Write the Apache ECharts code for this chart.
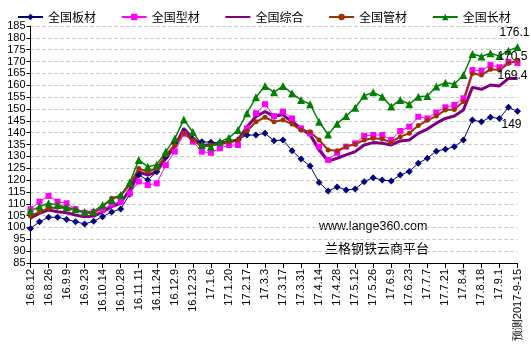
<!DOCTYPE html>
<html>
<head>
<meta charset="utf-8">
<script src="https://cdn.jsdelivr.net/npm/echarts@6/dist/echarts.min.js"></script>
<style>html,body{margin:0;padding:0;background:#fff}#c{width:531px;height:350px}</style>
</head>
<body>
<div id="c"></div>
<script>
const categories = ['16.8.12','16.8.19','16.8.26','16.9.2','16.9.9','16.9.16','16.9.23','16.9.30','16.10.14','16.10.21','16.10.28','16.11.4','16.11.11','16.11.18','16.11.24','16.12.2','16.12.9','16.12.16','16.12.23','16.12.30','17.1.6','17.1.13','17.1.20','17.2.10','17.2.17','17.2.24','17.3.3','17.3.10','17.3.17','17.3.24','17.3.31','17.4.7','17.4.14','17.4.21','17.4.28','17.5.5','17.5.12','17.5.19','17.5.26','17.6.2','17.6.9','17.6.16','17.6.23','17.6.30','17.7.7','17.7.14','17.7.21','17.7.28','17.8.4','17.8.11','17.8.18','17.8.25','17.9.1','17.9.8','预测2017-9-15'];

const plate = [99.6,102.4,104.3,104.3,103.4,102.4,101.5,102.6,104.5,106.5,107.8,114.0,122.1,120.0,123.5,129.6,135.5,140.3,137.2,136.2,135.9,135.8,136.2,136.9,139.0,139.0,139.7,136.6,136.9,132.4,128.9,125.9,119.0,115.4,117.1,115.8,116.2,119.3,121.0,120.0,119.6,122.1,123.6,127.1,129.2,132.2,133.0,134.1,136.9,145.3,144.6,146.5,146.0,150.7,149];
const section = [107.7,110.9,113.3,110.9,110.2,107.7,106.2,106.5,107.5,109.8,110.9,114.4,119.4,117.9,118.6,126.3,132.0,139.5,136.2,132.0,131.5,133.4,134.8,134.8,141.8,148.2,152.0,147.0,148.9,146.0,141.8,139.7,134.1,128.5,131.5,134.1,135.5,138.6,139.0,139.0,136.9,140.7,142.5,146.7,146.0,148.5,150.7,151.7,154.5,166.4,166.2,168.5,167.6,169.8,169.4];
const composite = [103.9,106.0,107.4,106.6,106.2,105.2,104.5,104.8,106.6,108.8,110.2,116.0,123.5,122.1,123.5,129.2,134.1,141.8,137.6,134.8,134.8,135.5,136.2,136.9,142.5,146.7,148.9,147.0,147.5,144.6,141.8,139.0,132.7,128.0,129.2,130.6,132.0,134.8,135.8,135.5,134.8,136.5,136.9,139.7,141.5,144.0,146.0,147.0,149.6,159.1,158.3,160.1,159.7,162.9,162.9];
const pipe = [104.8,106.6,108.1,108.5,108.1,107.4,106.2,106.0,108.8,112.3,113.4,118.0,124.9,123.5,124.9,130.6,134.8,139.7,136.9,134.1,134.8,135.5,136.0,136.9,140.7,144.6,146.5,144.6,145.3,143.6,141.1,140.4,136.9,132.7,132.4,134.1,135.1,136.9,137.6,137.3,135.9,138.3,139.7,143.0,145.2,147.0,149.6,149.8,153.1,165.0,164.3,166.7,166.4,169.3,170.5];
const longSteel = [107.0,108.8,110.2,109.5,108.5,107.7,106.5,106.8,109.5,111.6,113.7,119.0,128.5,125.6,126.5,132.0,137.5,145.5,140.3,134.8,134.1,136.2,137.8,141.1,148.2,154.9,159.7,157.0,159.7,156.6,153.8,152.0,144.6,139.2,143.8,147.0,150.5,155.6,157.0,155.2,151.0,153.8,152.0,155.2,155.5,159.5,161.1,160.5,164.3,173.2,172.1,173.5,172.3,174.6,176.1];

const seriesNames = ['全国板材','全国型材','全国综合','全国管材','全国长材'];
const yTicks = {min: 85, max: 185, step: 5};

function withEndLabel(arr, pos, offset) {
  return arr.map((v, i) => i === arr.length - 1 ? {
    value: v,
    label: {show: true, position: pos, offset: offset, distance: 4, formatter: '{c}',
            color: '#000', fontSize: 12, fontFamily: 'Liberation Sans'}
  } : v);
}

const chart = echarts.init(document.getElementById('c'), null, {renderer: 'canvas'});
chart.setOption({
  animation: false,
  backgroundColor: '#fff',
  grid: {left: 30.5, right: 13.5, top: 26, bottom: 87, containLabel: false},
  legend: {
    top: 6, left: 12, itemWidth: 25, itemHeight: 8, itemGap: 24.7,
    textStyle: {fontSize: 12, color: '#000', fontFamily: 'Noto Sans CJK SC'},
    data: [
      {name: seriesNames[0]},
      {name: seriesNames[1]},
      {name: seriesNames[2], itemStyle: {opacity: 0}},
      {name: seriesNames[3]},
      {name: seriesNames[4]}
    ]
  },
  xAxis: {
    type: 'category', boundaryGap: false, data: categories,
    axisLine: {lineStyle: {color: '#000', width: 1}},
    axisTick: {show: true, interval: 1, length: 5, lineStyle: {color: '#000'}},
    axisLabel: {interval: 1, rotate: 90, fontSize: 11, color: '#000', margin: 6,
                fontFamily: 'Liberation Sans'},
    splitLine: {show: false}
  },
  yAxis: {
    type: 'value', min: yTicks.min, max: yTicks.max, interval: yTicks.step,
    axisLine: {show: true, lineStyle: {color: '#000'}},
    axisTick: {show: true, length: 4, lineStyle: {color: '#000'}},
    axisLabel: {fontSize: 11, color: '#000', margin: 5, fontFamily: 'Liberation Sans'},
    splitLine: {show: true, lineStyle: {color: '#bdbdbd', type: [3, 3], width: 1}}
  },
  graphic: [
    {type: 'text', left: 319, top: 220, style: {text: 'www.lange360.com', fontSize: 12.5, fill: '#000', fontFamily: 'Liberation Sans'}},
    {type: 'text', left: 325, top: 242, style: {text: '兰格钢铁云商平台', fontSize: 13, fill: '#000', fontFamily: 'Noto Sans CJK SC'}}
  ],
  series: [
    {name: seriesNames[0], type: 'line', data: withEndLabel(plate, 'bottom', [-6, 0]),
     symbol: 'diamond', symbolSize: 7, showAllSymbol: true, color: '#000080',
     lineStyle: {width: 1, color: '#000080'}, itemStyle: {color: '#000080'}},
    {name: seriesNames[1], type: 'line', data: withEndLabel(section, 'bottom', [-5, 0]),
     symbol: 'rect', symbolSize: 6, showAllSymbol: true, color: '#ff00ff',
     lineStyle: {width: 1, color: '#ff00ff'}, itemStyle: {color: '#ff00ff'}},
    {name: seriesNames[2], type: 'line', data: withEndLabel(composite, 'bottom', [-5, 0]),
     symbol: 'none', color: '#800080',
     lineStyle: {width: 3, color: '#800080'}, itemStyle: {color: '#800080'}},
    {name: seriesNames[3], type: 'line', data: withEndLabel(pipe, 'inside', [-5, -4]),
     symbol: 'circle', symbolSize: 5, showAllSymbol: true, color: '#993300',
     lineStyle: {width: 2, color: '#993300'}, itemStyle: {color: '#993300'}},
    {name: seriesNames[4], type: 'line', data: withEndLabel(longSteel, 'top', [-3, 0]),
     symbol: 'triangle', symbolSize: 8, showAllSymbol: true, color: '#008000',
     lineStyle: {width: 1.5, color: '#008000'}, itemStyle: {color: '#008000'}}
  ]
});
</script>
</body>
</html>
